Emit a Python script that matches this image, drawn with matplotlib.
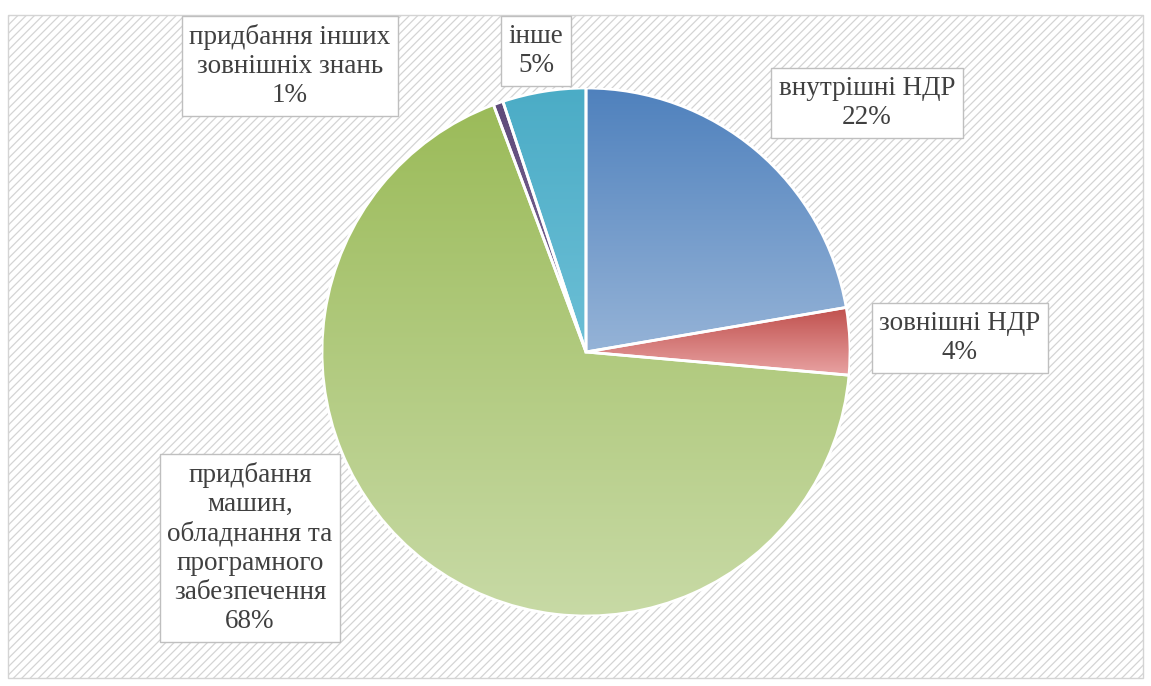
import numpy as np
import matplotlib
matplotlib.use("Agg")
import matplotlib.pyplot as plt
from matplotlib.patches import Rectangle, Wedge
from matplotlib.colors import LinearSegmentedColormap

plt.rcParams['font.family'] = ['Liberation Serif', 'DejaVu Serif']
plt.rcParams['hatch.color'] = '#DEDEDE'
plt.rcParams['hatch.linewidth'] = 0.9

categories = ["внутрішні НДР", "зовнішні НДР",
              "придбання\nмашин,\nобладнання та\nпрограмного\nзабезпечення",
              "придбання інших\nзовнішніх знань", "інше"]
values = [22.3, 4.1, 67.9, 0.6, 5.1]
top_colors = ["#4F81BD", "#C0504D", "#9BBB59", "#5F4B7A", "#4BACC6"]
bottom_colors = ["#95B3D7", "#E8A2A2", "#C8DAA6", "#7E6A99", "#6CBFD6"]
label_pos = [(867, 103), (960, 338), (250, 548), (290, 66), (536, 51)]  # pixel centres

W, H = 1151, 686
fig = plt.figure(figsize=(W / 100, H / 100), dpi=100)
fig.patch.set_facecolor('white')

# hatched background frame
bg = Rectangle((8 / W, 1 - 678 / H), (1143 - 8) / W, (678 - 15) / H,
               transform=fig.transFigure, facecolor='white', edgecolor='#D4D4D4',
               hatch='////', linewidth=1.0, zorder=-10)
fig.patches.append(bg)

cx, cy, r = 586, 352, 264
ax = fig.add_axes([(cx - r) / W, (H - cy - r) / H, 2 * r / W, 2 * r / H])
ax.set_zorder(1)
ax.patch.set_alpha(0)

wedges, _ = ax.pie(values, startangle=90, counterclock=False, radius=1,
                   wedgeprops=dict(linewidth=0, zorder=1))

for w, c1, c2 in zip(wedges, top_colors, bottom_colors):
    v = w.get_path().vertices
    x0, x1 = v[:, 0].min(), v[:, 0].max()
    y0, y1 = v[:, 1].min(), v[:, 1].max()
    cmap = LinearSegmentedColormap.from_list('g', [c1, c2])
    grad = np.linspace(0, 1, 256).reshape(-1, 1)
    im = ax.imshow(grad, cmap=cmap, extent=(x0, x1, y0, y1), aspect='auto',
                   origin='upper', zorder=2, interpolation='bilinear')
    im.set_clip_path(w)
    ax.add_patch(Wedge(w.center, w.r, w.theta1, w.theta2, fill=False,
                       edgecolor='white', linewidth=2.0, zorder=3))

ax.set_xlim(-1, 1)
ax.set_ylim(-1, 1)
ax.set_aspect('auto')
ax.axis('off')

total = sum(values)
for cat, val, (px, py) in zip(categories, values, label_pos):
    pct = round(val / total * 100)
    t = fig.text(px / W, 1 - py / H, f"{cat}\n{pct}%", ha='center', va='center',
                 fontsize=19.5, color='#404040', linespacing=1.22, zorder=5,
                 bbox=dict(boxstyle='square,pad=0.28', facecolor='white',
                           edgecolor='#BFBFBF', linewidth=1.0))

fig.savefig('out.png', dpi=100)
